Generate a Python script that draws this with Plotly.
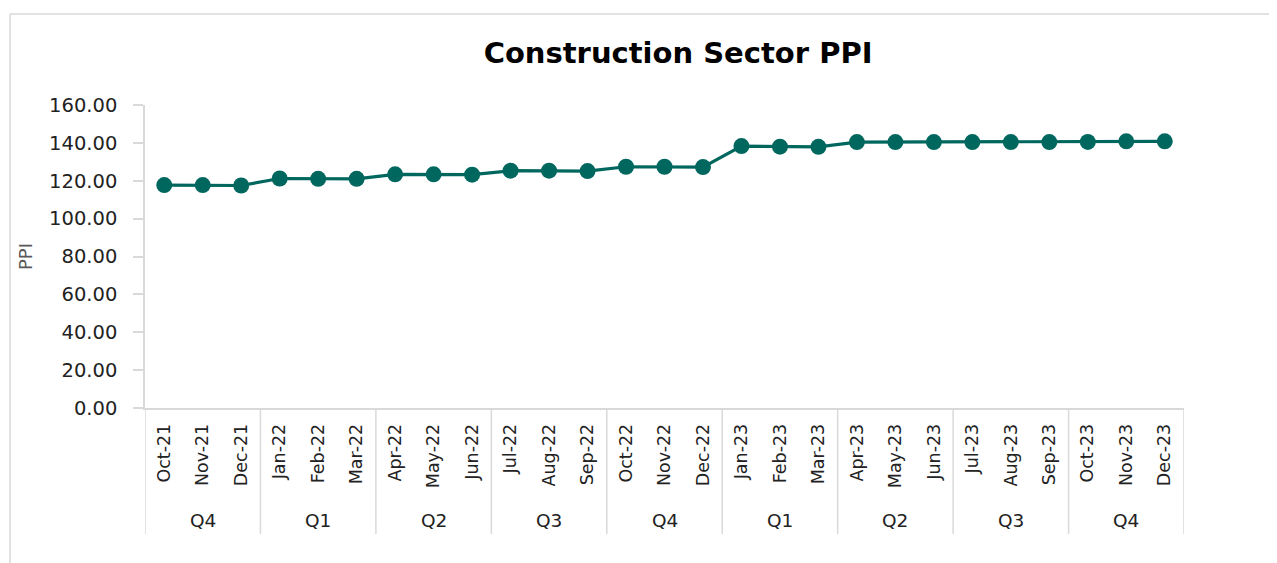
import plotly.graph_objects as go

months = ["Oct-21", "Nov-21", "Dec-21", "Jan-22", "Feb-22", "Mar-22", "Apr-22", "May-22", "Jun-22",
          "Jul-22", "Aug-22", "Sep-22", "Oct-22", "Nov-22", "Dec-22", "Jan-23", "Feb-23", "Mar-23",
          "Apr-23", "May-23", "Jun-23", "Jul-23", "Aug-23", "Sep-23", "Oct-23", "Nov-23", "Dec-23"]
ppi = [117.7, 117.7, 117.5, 121.2, 121.0, 121.0, 123.4, 123.4, 123.2,
       125.3, 125.3, 125.1, 127.4, 127.4, 127.2, 138.3, 138.0, 137.9,
       140.4, 140.4, 140.4, 140.4, 140.4, 140.4, 140.5, 140.8, 140.8]
quarters = ["Q4", "Q1", "Q2", "Q3", "Q4", "Q1", "Q2", "Q3", "Q4"]
y_ticks = [0, 20, 40, 60, 80, 100, 120, 140, 160]

TEAL = "#00675F"
GRID = "#D9D9D9"
FONT = "DejaVu Sans, Verdana, sans-serif"

fig = go.Figure()
fig.add_trace(go.Scatter(
    x=months, y=ppi, mode="lines+markers",
    line=dict(color=TEAL, width=3.2),
    marker=dict(color=TEAL, size=16),
    showlegend=False,
))

shapes = []
annotations = []
for i in range(len(quarters) + 1):
    xb = i * 3 - 0.5
    shapes.append(dict(type="line", xref="x", yref="paper", x0=xb, x1=xb, y0=0, y1=-0.416,
                       line=dict(color=GRID, width=1.5)))
for i, q in enumerate(quarters):
    annotations.append(dict(x=months[i * 3 + 1], xref="x", y=-0.37, yref="paper", text=q,
                            showarrow=False, font=dict(size=18.5, color="#222222", family=FONT),
                            yanchor="middle"))

# outer chart border (left and top edges visible)
shapes.append(dict(type="line", xref="paper", yref="paper", x0=-0.1299, x1=-0.1299, y0=1.30, y1=-0.55,
                   line=dict(color=GRID, width=1.5)))
shapes.append(dict(type="line", xref="paper", yref="paper", x0=-0.1299, x1=1.2, y0=1.30, y1=1.30,
                   line=dict(color=GRID, width=1.5)))

fig.update_layout(
    width=1269, height=555,
    margin=dict(l=137, r=93, t=97, b=155),
    paper_bgcolor="white", plot_bgcolor="white",
    font=dict(family=FONT, color="#222222"),
    title=dict(text="<b>Construction Sector PPI</b>", x=0.528, xanchor="center", y=0.92, yanchor="middle",
               font=dict(size=29, color="#000000", family=FONT)),
    shapes=shapes, annotations=annotations,
)
fig.update_xaxes(
    type="category", range=[-0.5, len(months) - 0.5],
    tickangle=-90, tickfont=dict(size=17.5, color="#222222"),
    showline=True, linecolor=GRID, linewidth=1.5, showgrid=False, ticks="", ticklabelstandoff=7,
)
fig.update_yaxes(
    range=[0, 160], tickvals=y_ticks, ticktext=[f"{v:.2f}" for v in y_ticks],
    tickfont=dict(size=19.5, color="#222222"),
    showline=True, linecolor=GRID, linewidth=1.5, showgrid=False,
    ticks="outside", ticklen=10, tickcolor=GRID, tickwidth=1.5, ticklabelstandoff=12,
    title=dict(text="PPI", font=dict(size=18, color="#595959"), standoff=12),
)

fig.write_html("out.html")
